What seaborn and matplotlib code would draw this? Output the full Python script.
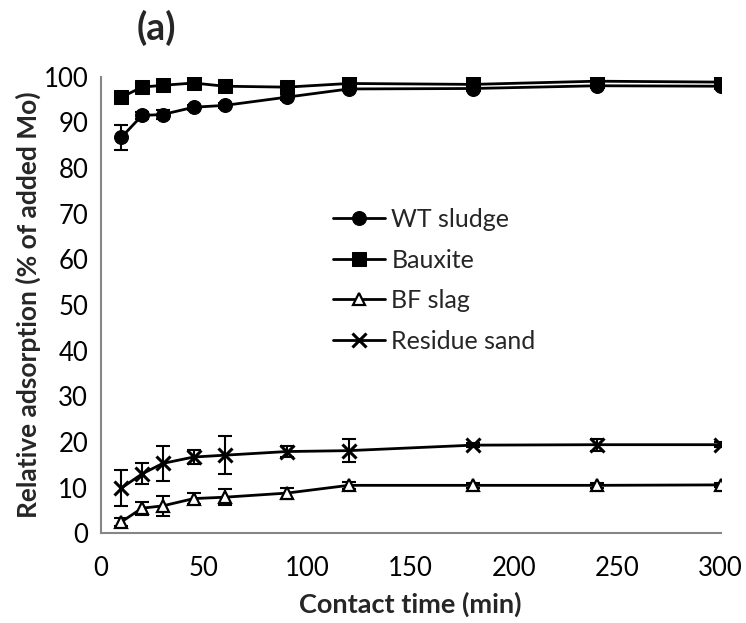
import numpy as np
import pandas as pd
import matplotlib
matplotlib.use("Agg")
import matplotlib.pyplot as plt
import seaborn as sns

time_min = [10, 20, 30, 45, 60, 90, 120, 180, 240, 300]

wt_sludge = [86.7, 91.5, 91.7, 93.3, 93.7, 95.5, 97.3, 97.4, 98.0, 97.9]
wt_sludge_err = [2.7, 0.8, 1.0, 0.5, 0.5, 0.6, 0.4, 0.3, 0.3, 0.3]

bauxite = [95.5, 97.7, 98.1, 98.6, 97.9, 97.7, 98.5, 98.3, 99.0, 98.8]
bauxite_err = [1.2, 0.5, 0.4, 0.3, 0.4, 0.3, 0.3, 0.2, 0.3, 0.2]

bf_slag = [2.5, 5.5, 6.0, 7.6, 7.9, 8.8, 10.5, 10.5, 10.5, 10.6]
bf_slag_err = [0.8, 1.4, 2.2, 1.2, 1.7, 1.2, 0.8, 0.5, 0.6, 0.5]

residue_sand = [9.9, 13.0, 15.3, 16.7, 17.1, 17.9, 18.1, 19.3, 19.4, 19.4]
residue_sand_err = [4.0, 2.3, 3.9, 1.6, 4.2, 1.3, 2.5, 0.5, 1.3, 0.6]

series_names = ["WT sludge", "Bauxite", "BF slag", "Residue sand"]

df = pd.DataFrame({
    "time": time_min * 4,
    "value": wt_sludge + bauxite + bf_slag + residue_sand,
    "err": wt_sludge_err + bauxite_err + bf_slag_err + residue_sand_err,
    "series": np.repeat(series_names, len(time_min)),
})

styles = {
    "WT sludge": dict(marker="o", markersize=10, markerfacecolor="black"),
    "Bauxite": dict(marker="s", markersize=10, markerfacecolor="black"),
    "BF slag": dict(marker="^", markersize=9, markerfacecolor="white", markeredgewidth=1.6),
    "Residue sand": dict(marker="x", markersize=10, markeredgewidth=2.2),
}

sns.set_style("white")
plt.rcParams["font.family"] = ["Lato", "DejaVu Sans"]

fig, ax = plt.subplots(figsize=(7.46, 6.23), dpi=100)
fig.subplots_adjust(left=0.135, right=0.966, top=0.877, bottom=0.144)

for name in series_names:
    d = df[df["series"] == name]
    ax.errorbar(d["time"], d["value"], yerr=d["err"], fmt="none", ecolor="black",
                elinewidth=1.5, capsize=5, capthick=1.5, zorder=2)
    sns.lineplot(data=d, x="time", y="value", color="black", linewidth=2,
                 markeredgecolor="black", label=name, ax=ax, zorder=3, **styles[name])

ax.set_xlim(0, 300)
ax.set_ylim(0, 100)
ax.set_xticks(range(0, 301, 50))
ax.set_yticks(range(0, 101, 10))

for side in ["top", "right"]:
    ax.spines[side].set_visible(False)
for side in ["left", "bottom"]:
    ax.spines[side].set_color("#868686")
    ax.spines[side].set_linewidth(1.5)
ax.tick_params(axis="both", direction="out", length=6, width=1.5, color="#868686",
               labelsize=18.5, labelcolor="black", pad=10)
ax.tick_params(axis="y", pad=3)

ax.set_xlabel("Contact time (min)", fontsize=19.5, fontweight="bold", labelpad=8)
ax.set_ylabel("Relative adsorption (% of added Mo)", fontsize=19, fontweight="bold", labelpad=2)
fig.text(0.21, 0.955, "(a)", fontsize=27, fontweight="bold", ha="center", va="center")

ax.legend(loc="center left", bbox_to_anchor=(0.374, 0.554), frameon=False, fontsize=18,
          borderpad=0, borderaxespad=0, handlelength=2.1, labelspacing=0.7,
          handletextpad=0.25)

plt.savefig("out.png", dpi=100)
